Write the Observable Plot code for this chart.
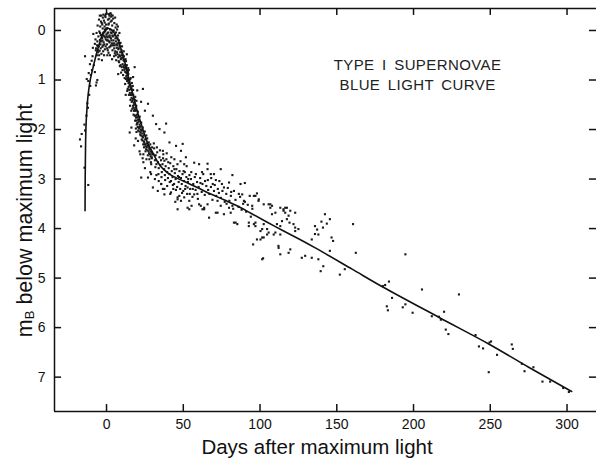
<!DOCTYPE html>
<html>
<head>
<meta charset="utf-8">
<script src="https://cdn.jsdelivr.net/npm/d3@7"></script>
<script src="https://cdn.jsdelivr.net/npm/@observablehq/plot@0.6"></script>
<style>
  html, body { margin: 0; padding: 0; background: #fff; }
  #chart { width: 596px; height: 459px; }
</style>
</head>
<body>
<div id="chart"></div>
<script>
// ---- tick values ----
const xTicks = [0, 50, 100, 150, 200, 250, 300];
const yTicks = [0, 1, 2, 3, 4, 5, 6, 7];

// ---- mean light curve (days after max, mag below max) ----
const lineDays = [-14, -13.9, -13.7, -13.4, -12.8, -12, -10.5, -8.7, -7, -5.4, -3.8, -2.2, 0, 1.1, 3, 4.3, 6, 7.6, 9.2, 10.8, 12.4, 14, 16, 18.3, 20.5, 22.6, 25, 27, 30, 33.4, 37, 42, 50, 57, 65, 76.5, 85, 94, 110, 126, 136, 160, 180, 217, 249, 275, 303];
const lineMags = [3.64, 3.0, 2.4, 1.95, 1.6, 1.3, 0.98, 0.74, 0.52, 0.34, 0.18, 0.05, -0.02, -0.04, -0.02, 0.02, 0.1, 0.2, 0.35, 0.51, 0.7, 0.91, 1.15, 1.42, 1.68, 1.89, 2.12, 2.29, 2.46, 2.66, 2.8, 2.92, 3.04, 3.14, 3.26, 3.42, 3.54, 3.69, 3.96, 4.22, 4.39, 4.82, 5.18, 5.8, 6.33, 6.8, 7.29];

// ---- individual observations [day, mag] ----
const obsRise = [[-17.3,2.2],[-16.6,2.34],[-16.2,2.09],[-14.4,1.9],[-14.0,2.02],[-14.4,2.77],[-11.9,3.12],[-14.0,0.52],[-12.9,0.98],[-11.9,1.02],[-9.7,0.61],[-7.6,0.84],[-6.5,1.05],[-6.0,1.0],[-6.9,1.11],[-5.4,0.44],[-7.6,0.27],[-8.6,0.07],[-10.8,0.68],[-11.3,1.3],[-12.5,1.47],[-10.2,0.9],[-9.1,0.52],[-8.3,0.7],[-13.1,1.72],[-12.1,1.56],[-10.6,1.12],[-9.5,0.8],[-11.6,0.86],[-8.9,0.35]];

const obsPeak = [[-7.2,0.18],[-6.8,0.36],[-6.5,0.05],[-6.3,0.5],[-6.0,0.22],[-5.8,-0.1],[-5.6,0.31],[-5.3,0.12],[-5.1,0.58],[-4.9,-0.22],[-4.7,0.02],[-4.5,0.41],[-4.3,0.19],[-4.1,-0.08],[-3.9,0.28],[-3.7,0.09],[-3.5,-0.3],[-3.3,0.47],[-3.1,-0.15],[-2.9,0.15],[-2.7,0.33],[-2.5,-0.04],[-2.3,0.06],[-2.1,-0.32],[-1.9,0.24],[-1.7,-0.2],[-1.5,0.12],[-1.3,-0.08],[-1.1,0.38],[-0.9,0.02],[-0.7,-0.27],[-0.5,0.18],[-0.3,-0.12],[-0.1,0.08],[0.1,-0.34],[0.3,0.28],[0.5,-0.05],[0.7,0.14],[0.9,-0.22],[1.1,0.04],[1.3,0.45],[1.5,-0.14],[1.7,0.22],[1.9,-0.3],[2.1,0.1],[2.3,-0.02],[2.5,0.32],[2.7,-0.18],[2.9,0.16],[3.1,-0.32],[3.3,0.05],[3.5,0.26],[3.7,-0.1],[3.9,0.4],[4.1,0.12],[4.3,-0.24],[4.5,0.2],[4.7,0.0],[4.9,0.52],[5.1,-0.15],[5.3,0.3],[5.5,0.08],[5.7,0.42],[5.9,-0.06],[6.1,0.22],[6.3,0.6],[6.5,0.14],[6.7,0.35],[6.9,-0.02],[7.1,0.48],[7.3,0.26],[7.5,0.1],[7.7,0.38],[7.9,0.62],[8.1,0.2],[8.3,0.5],[8.5,0.32],[8.7,0.72],[8.9,0.44],[9.1,0.25],[9.3,0.58],[9.5,0.85],[9.7,0.4],[-3.0,0.6],[-1.6,0.5],[0.4,0.36],[2.2,0.5],[3.6,0.58],[-4.4,-0.3],[-2.4,-0.26],[1.6,-0.33],[4.0,-0.3],[5.6,-0.26],[6.6,-0.12],[0.0,0.12],[1.0,0.2],[2.0,0.24],[3.0,0.3],[-1.0,-0.02],[-2.0,0.1],[-3.4,0.22],[-5.0,0.32],[7.4,-0.08],[8.4,0.05],[-0.4,-0.33],[2.6,-0.35],
  [-4.2,0.05],[-3.8,0.36],[-3.2,0.1],[-2.8,-0.12],[-2.6,0.2],[-2.2,0.42],[-1.8,0.04],[-1.4,0.28],[-1.2,-0.16],[-0.8,0.14],[-0.6,0.32],[-0.2,-0.04],[0.2,0.2],[0.6,0.06],[0.8,0.4],[1.2,-0.12],[1.4,0.12],[1.8,0.34],[2.4,0.14],[2.8,0.04],[3.2,0.2],[3.4,-0.2],[3.8,0.1],[4.2,0.3],[4.4,0.02],[4.8,0.26],[5.2,0.1],[5.4,0.46],[5.8,0.16],[6.2,0.04],[6.4,0.28],[6.8,0.44],[7.2,0.16],[7.6,0.54],[8.0,0.36],[8.2,0.64],[8.6,0.26],[8.8,0.52],[9.2,0.7],[9.6,0.56],[9.9,0.74],[10.4,0.8],[-5.5,0.4],[-6.2,0.3],[-7.0,0.4],[-4.8,0.5],[-3.6,-0.18],[-0.9,-0.3],[1.8,-0.24],[3.0,-0.28],[5.0,0.36],[6.0,0.5],[7.0,0.3],[-2.2,0.3],[0.5,0.5]];

const obsDecline = [[10.1,0.32],[10.3,0.55],[10.5,0.68],[10.2,0.45],[10.8,0.9],[11.0,0.6],[11.2,0.42],[11.4,0.75],[11.6,0.62],[11.8,0.96],[11.3,0.52],[12.0,0.7],[12.2,0.84],[12.4,0.58],[12.6,0.98],[12.8,0.74],[12.1,1.08],[13.0,0.86],[13.2,0.7],[13.4,1.02],[13.6,0.9],[13.8,1.18],[13.3,0.8],[14.0,1.0],[14.2,0.88],[14.4,1.14],[14.6,1.3],[14.8,1.02],[14.5,0.8],[15.0,1.1],[15.2,1.26],[15.4,0.98],[15.6,1.4],[15.8,1.18],[15.3,1.52],[16.0,1.3],[16.2,1.16],[16.4,1.44],[16.6,1.26],[16.8,1.58],[16.5,1.06],[17.0,1.38],[17.2,1.52],[17.4,1.3],[17.6,1.7],[17.8,1.46],[17.3,1.2],[18.0,1.5],[18.2,1.62],[18.4,1.4],[18.6,1.82],[18.8,1.56],[18.3,1.72],[19.0,1.62],[19.2,1.76],[19.4,1.52],[19.6,1.9],[19.8,1.7],[19.5,1.42],[20.0,1.75],[20.2,1.86],[20.4,1.64],[20.6,2.02],[20.8,1.8],[20.3,1.95],[21.0,1.84],[21.3,1.98],[21.6,1.74],[21.9,2.1],[21.5,1.9],[22.0,1.94],[22.3,2.06],[22.6,1.86],[22.9,2.2],[22.5,2.0],[23.0,2.02],[23.3,2.14],[23.6,1.96],[23.9,2.3],[23.5,2.08],[24.2,2.12],[24.6,2.26],[24.9,2.04],[24.4,2.36],[25.2,2.2],[25.6,2.34],[25.9,2.12],[25.4,2.44],[26.3,2.28],[26.7,2.42],[26.5,2.18],[26.9,2.52],[27.3,2.34],[27.7,2.48],[27.5,2.26],[27.9,2.6],[28.3,2.4],[28.7,2.54],[28.5,2.3],[28.9,2.66],[29.3,2.46],[29.7,2.36],[29.5,2.58],[29.1,2.7],[7.6,0.88],[16.2,1.96],[15.1,2.06],[18.3,0.74],[17.3,0.94],[20.0,1.21],[23.7,1.18],[27.0,1.48],[30.2,1.72],[32.3,1.89],[38.8,1.88],[34.5,1.99],[37.7,2.06],[13.2,0.48],[22.5,1.44],[25.0,1.62],[19.0,2.18],[21.5,2.44],[24.0,2.66],[12.5,1.3],[20.5,2.23],[18.0,2.32],[22.0,2.5],[23.5,2.58],[19.5,2.05],
  [9.8,0.5],[10.6,0.5],[11.1,0.72],[11.7,0.8],[12.3,0.76],[12.9,0.92],[13.5,0.96],[13.9,0.84],[14.3,1.06],[14.9,1.2],[15.5,1.12],[15.9,1.3],[16.3,1.36],[16.9,1.42],[17.5,1.56],[17.9,1.62],[18.5,1.6],[18.9,1.72],[19.3,1.82],[19.9,1.88],[20.5,1.8],[20.9,1.96],[21.4,2.04],[21.8,1.94],[22.4,2.12],[22.8,2.02],[23.4,2.22],[23.8,2.16],[24.3,2.24],[24.8,2.3],[25.3,2.3],[25.8,2.4],[26.2,2.36],[26.8,2.32],[27.4,2.44],[27.8,2.38],[28.4,2.5],[28.8,2.44],[29.4,2.56],[29.8,2.5],[12.7,0.62],[14.1,0.76],[15.7,0.96],[17.1,1.12],[18.7,1.34],[13.5,1.22],[16.1,1.62],[19.1,1.98]];

const obsPlateau = [[41,2.26],[45.3,2.33],[49.6,2.29],[48.5,2.43],[51.7,2.56],[50.6,2.7],[57.1,2.67],[60.3,2.7],[65.8,2.8],[36.7,2.43],[37.7,2.63],[44.2,2.6],[65.8,2.69],[67.9,2.9],[70,2.9],[74.4,2.8],[82,2.92],[90.1,3.08],[79.8,3.07],[76.5,3.17],[83,3.24],[88.4,3.31],[93.3,3.34],[87.3,3.1],[70,3.24],[35.6,3.1],[37.7,3.2],[47.4,3.34],[52.8,3.58],[53.9,3.44],[63.6,3.58],[61.4,3.54],[65.8,3.51],[71.2,3.68],[72.3,3.44],[76.5,3.71],[80.9,3.68],[82,3.54],[85.2,3.91],[92.7,3.95],[57.1,3.31],[46.3,3.41],[52.8,3.17],[42,3.27],[84.1,3.88],[89.5,3.44],[74.4,3.54],[79.8,3.58],[72.3,3.68],[83,3.88],[92.7,3.88],[63.6,3.61],[66.8,3.78],[30.5,2.5],[31.0,2.38],[31.5,2.62],[32.0,2.52],[32.5,2.7],[33.0,2.46],[33.5,2.66],[34.0,2.78],[34.5,2.56],[35.0,2.72],[35.5,2.62],[36.0,2.86],[36.5,2.7],[37.0,2.5],[37.5,2.8],[38.0,2.92],[38.5,2.74],[39.0,2.6],[39.5,2.86],[40.0,2.98],[40.5,2.78],[41.0,2.9],[41.5,2.68],[42.0,3.04],[42.5,2.84],[43.0,2.96],[43.5,2.74],[44.0,3.1],[44.5,2.88],[45.0,3.0],[45.5,2.8],[46.0,3.16],[46.5,2.94],[47.0,3.06],[47.5,2.84],[48.0,3.2],[48.5,2.98],[49.0,3.1],[49.5,2.9],[50.0,3.24],[50.5,3.04],[51.0,2.86],[51.5,3.14],[52.0,2.96],[52.5,3.3],[53.0,3.06],[54.0,2.92],[54.5,3.2],[55.0,3.0],[56.0,3.36],[56.5,3.1],[57.5,2.96],[58.0,3.22],[59.0,3.06],[59.5,3.4],[60.0,3.16],[61.0,2.98],[62.0,3.26],[62.5,3.1],[63.0,2.9],[64.0,3.32],[65.0,3.14],[66.0,3.02],[67.0,3.3],[68.0,3.16],[69.0,3.42],[70.5,3.12],[71.5,3.34],[72.5,3.2],[73.5,3.04],[74.5,3.38],[75.5,3.24],[77.0,3.46],[78.0,3.3],[79.0,3.18],[80.0,3.44],[81.0,3.34],[82.5,3.6],[84.0,3.42],[86.0,3.56],[87.0,3.36],[88.0,3.62],[89.0,3.5],[91.0,3.66],[92.0,3.52],[94.0,3.76],[95.0,3.6],[22.6,2.97],[27.0,2.97],[30.2,3.17],[33.4,3.24],[36.7,3.2],[35.6,3.1],[37.7,3.31],[46.3,3.37],[50.6,3.37],[48.5,3.44],[55.4,3.54],[60.3,3.51],[62.5,3.61],[53.9,3.61],[46.3,3.61],[25.0,2.78],[28.5,2.86],[31.5,3.0],[26.0,2.6],[29.0,2.9],[32.5,2.92],[34.0,3.04],[24.0,2.5],[39.5,3.14],[41.5,3.3],[43.5,3.2],[44.8,3.46],
  [30.8,2.28],[31.8,2.76],[32.8,2.36],[33.8,2.9],[34.8,2.42],[35.8,2.96],[36.8,2.58],[38.2,3.02],[39.2,2.48],[40.2,2.66],[41.2,3.06],[42.2,2.56],[43.2,3.12],[44.2,2.8],[45.2,3.22],[46.2,2.7],[47.2,2.96],[48.2,2.64],[49.2,3.28],[50.2,2.84],[51.2,3.2],[52.2,2.74],[53.2,3.0],[54.2,3.3],[55.2,2.86],[56.2,3.2],[58.2,2.9],[59.2,3.3],[61.2,3.08],[62.2,2.86],[64.2,3.04],[66.2,3.22],[68.2,2.98],[69.2,3.1],[71.2,3.02],[73.2,3.28],[75.2,3.1],[78.2,3.5],[81.2,3.26],[86.2,3.3],[90.2,3.46]];

const obsTail = [[96,3.34],[98,3.29],[99,3.44],[94.9,3.54],[97,3.88],[96,3.91],[102.4,3.91],[100.3,4.05],[105.6,4.08],[101.4,4.18],[98,4.22],[95.5,4.32],[104.6,4.01],[106.7,3.51],[107.8,3.71],[110,3.68],[111,3.91],[115.3,3.61],[116.4,3.68],[117.5,3.58],[118.6,3.74],[119.2,3.88],[121.8,3.91],[122.9,4.05],[113.2,4.12],[108.9,4.12],[114.3,3.85],[125,4.01],[118.6,4.49],[112.1,4.39],[113.2,4.52],[119.7,4.42],[102,4.6],[112,4.35],[97,3.34],[99.2,3.41],[102.4,3.51],[105.6,3.51],[107.8,3.54],[113.2,3.58],[116.4,3.58],[119.7,3.64],[97,3.95],[101.4,4.01],[104.6,4.12],[110,4.08],[113.2,3.95],[117.5,3.81],[122.9,3.68],[100.3,4.22],[102.4,4.18],[101.4,4.62],[106.7,3.58],[115.3,3.64],[122.9,3.98],[160.6,3.91],[162.4,4.49],[142.3,3.71],[145.5,3.81],[135.8,3.95],[141,3.98],[138,4.12],[135.8,4.11],[133.7,4.22],[146.6,4.18],[147.6,4.25],[145.5,4.45],[127.2,4.59],[129.4,4.55],[133.7,4.59],[138,4.62],[141.2,4.76],[139.5,4.86],[152,4.93],[155.2,4.82],[143.5,3.9],[140.0,3.86],[137.2,4.02],[194.7,4.52],[180,5.16],[184,5.07],[182.6,5.57],[183.3,5.65],[186,5.4],[193,5.59],[194.7,5.53],[199.4,5.7],[205.5,5.23],[229.6,5.33],[219.9,5.68],[217.8,5.84],[221,6.04],[222.7,6.13],[211.9,5.77],[240.4,6.15],[242.6,6.38],[245.3,6.42],[249,6.9],[254.4,6.55],[264,6.34],[264.7,6.43],[270.6,6.73],[272.3,6.88],[278.1,6.8],[284,7.09],[289,7.09],[297.5,7.22],[301.2,7.3],[249.5,6.3],[250.5,6.28],[181.5,5.14],[216.5,5.78]];

// ---- text ----
const xTitle = "Days after maximum light";
const yTitle = "mB below maximum light";
const noteLines = ["TYPE I SUPERNOVAE", "BLUE LIGHT CURVE"];
const noteDay = [202.6, 202.6];
const noteMag = [0.71, 1.11];

// ---- build ----
const curve = lineDays.map((d, i) => ({day: d, mag: lineMags[i]}));
const obs = [...obsRise, ...obsPeak, ...obsDecline, ...obsPlateau, ...obsTail].map(([d, m]) => ({day: d, mag: m}));
const notes = noteLines.map((t, i) => ({t, day: noteDay[i], mag: noteMag[i]}));

const xDom = [-33.9, 319.2];
const yDom = [-0.444, 7.694];
const tickLenY = 0.14;   // tick length in mag units (~7px)
const tickLenX = 4.6;    // tick length in day units (~7px)
const ink = "#111";
const font = "'Liberation Sans', Arial, sans-serif";

const plot = Plot.plot({
  width: 596,
  height: 459,
  marginLeft: 54,
  marginRight: 0,
  marginTop: 8,
  marginBottom: 48,
  style: {fontFamily: font, background: "#fff", color: ink},
  x: {domain: xDom},
  y: {domain: yDom, reverse: true},
  marks: [
    Plot.axisX({ticks: xTicks, tickSize: 0, tickPadding: 8, fontSize: 14, label: null, fill: "#111"}),
    Plot.axisY({ticks: yTicks, tickSize: 0, tickPadding: 9, fontSize: 14, label: null, fill: "#111"}),
    // frame lines
    Plot.ruleX([xDom[0]], {stroke: ink, strokeWidth: 1.5}),
    Plot.ruleY([yDom[0], yDom[1]], {stroke: ink, strokeWidth: 1.5}),
    // inward ticks
    Plot.ruleX(xTicks, {y1: yDom[1], y2: yDom[1] - tickLenY, stroke: ink, strokeWidth: 1.5}),
    Plot.ruleX(xTicks, {y1: yDom[0], y2: yDom[0] + tickLenY, stroke: ink, strokeWidth: 1.5}),
    Plot.ruleY(yTicks, {x1: xDom[0], x2: xDom[0] + tickLenX, stroke: ink, strokeWidth: 1.5}),
    Plot.ruleY(yTicks, {x1: xDom[1], x2: xDom[1] - tickLenX, stroke: ink, strokeWidth: 1.5}),
    // data
    Plot.dot(obs, {x: "day", y: "mag", r: 1.2, symbol: "square", fill: "#1a1a1a", stroke: null}),
    Plot.line(curve, {x: "day", y: "mag", stroke: ink, strokeWidth: 1.6, curve: "catmull-rom"}),
    // annotation
    Plot.text(notes, {x: "day", y: "mag", text: "t", fontSize: 15, fill: "#222", textAnchor: "middle", lineAnchor: "middle"}),
    // axis titles
    Plot.text([xTitle], {frameAnchor: "bottom", dx: -8.5, dy: 36, fontSize: 20.5, fill: "#111", textAnchor: "middle", lineAnchor: "middle"}),
    Plot.text([yTitle], {frameAnchor: "left", rotate: -90, dx: -29, dy: 10.5, fontSize: 21.5, fill: "#111", textAnchor: "middle", lineAnchor: "middle"})
  ]
});

document.getElementById("chart").appendChild(plot);

// post-process: letter spacing for the annotation, subscript B in the y title
const svg = d3.select(plot);
svg.selectAll("text").each(function () {
  const el = d3.select(this);
  const t = this.textContent;
  if (noteLines.includes(t)) {
    el.style("letter-spacing", "0.4px").style("word-spacing", "3px");
  } else if (t === yTitle) {
    el.text(null);
    el.append("tspan").text("m");
    el.append("tspan").attr("font-size", "60%").attr("dy", "0.12em").text("B");
    el.append("tspan").attr("dy", "-0.07em").text(" below maximum light");
  }
});
</script>
</body>
</html>
